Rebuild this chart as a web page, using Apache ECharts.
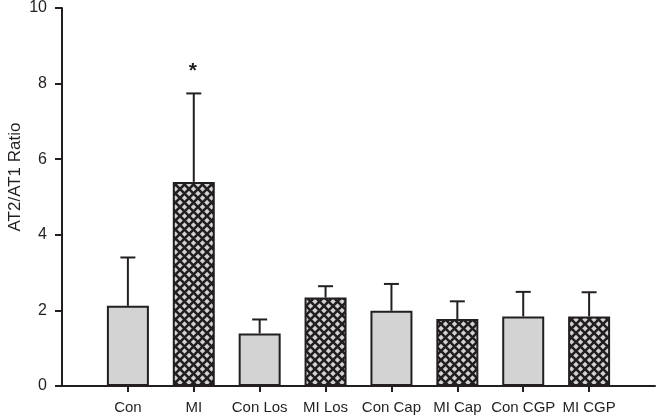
<!DOCTYPE html>
<html>
<head>
<meta charset="utf-8">
<script src="https://cdn.jsdelivr.net/npm/echarts@6/dist/echarts.min.js"></script>
<style>html,body{margin:0;padding:0;background:#fff}#c{width:658px;height:417px}</style>
</head>
<body>
<div id="c"></div>
<script>
var categories = ['', 'Con', 'MI', 'Con Los', 'MI Los', 'Con Cap', 'MI Cap', 'Con CGP', 'MI CGP', ''];
var means = [null, 2.12, 5.40, 1.39, 2.34, 1.99, 1.77, 1.84, 1.84, null];
var errTops = [null, 3.40, 7.74, 1.76, 2.64, 2.70, 2.24, 2.49, 2.48, null];
var hatched = [false, false, true, false, true, false, true, false, true, false];
var significance = ['', '', '*', '', '', '', '', '', '', ''];
var yTicks = [0, 2, 4, 6, 8, 10];

var FILL = '#d3d3d3', DARK = '#231f20';
function makePattern() {
  var s = 9;
  var c = document.createElement('canvas');
  c.width = s; c.height = s;
  var g = c.getContext('2d');
  g.fillStyle = FILL; g.fillRect(0, 0, s, s);
  g.strokeStyle = DARK; g.lineWidth = 2.6;
  g.beginPath();
  g.moveTo(-1, -1); g.lineTo(s + 1, s + 1);
  g.moveTo(s + 1, -1); g.lineTo(-1, s + 1);
  g.stroke();
  return c;
}
var pat = makePattern();

var barData = means.map(function (v, i) {
  if (v == null) return null;
  return {
    value: v,
    itemStyle: { color: hatched[i] ? { image: pat, repeat: 'repeat' } : FILL }
  };
});
var errData = means.map(function (v, i) {
  return v == null ? null : [i, v, errTops[i], significance[i]];
}).filter(function (d) { return d; });

var chart = echarts.init(document.getElementById('c'), null, { renderer: 'canvas' });
chart.setOption({
  animation: false,
  grid: { left: 62, right: 0, top: 7, bottom: 31, containLabel: false },
  xAxis: {
    type: 'category',
    data: categories,
    boundaryGap: false,
    axisLine: { lineStyle: { color: DARK, width: 2 } },
    axisTick: {
      length: 6,
      lineStyle: { color: DARK, width: 2 },
      interval: function (i, v) { return v !== ''; }
    },
    axisLabel: { color: '#231f20', fontSize: 15, fontFamily: 'Liberation Sans, Arial', margin: 14, interval: 0 },
    splitLine: { show: false }
  },
  yAxis: {
    type: 'value',
    min: 0, max: 10, interval: 2,
    axisLine: { show: true, lineStyle: { color: DARK, width: 2 } },
    axisTick: { show: true, length: 7, lineStyle: { color: DARK, width: 2 } },
    axisLabel: { color: '#231f20', fontSize: 16, fontFamily: 'Liberation Sans, Arial', margin: 15,
      formatter: function (v) { return yTicks.indexOf(v) >= 0 ? String(v) : ''; } },
    splitLine: { show: false }
  },
  graphic: [{
    type: 'text',
    x: 15, y: 177,
    rotation: Math.PI / 2,
    style: {
      text: 'AT2/AT1 Ratio',
      fill: '#231f20',
      font: '17px "Liberation Sans", Arial',
      textAlign: 'center',
      textVerticalAlign: 'middle'
    }
  }],
  series: [{
    type: 'bar',
    data: barData,
    barWidth: 42,
    itemStyle: { borderColor: DARK, borderWidth: 2 },
    z: 2
  }, {
    type: 'custom',
    data: errData,
    z: 3,
    renderItem: function (params, api) {
      var base = api.coord([api.value(0), api.value(1)]);
      var top = api.coord([api.value(0), api.value(2)]);
      var sig = errData[params.dataIndex][3];
      var half = 7.5;
      var children = [{
        type: 'line',
        shape: { x1: base[0], y1: base[1], x2: top[0], y2: top[1] },
        style: { stroke: DARK, lineWidth: 2 }
      }, {
        type: 'line',
        shape: { x1: top[0] - half, y1: top[1], x2: top[0] + half, y2: top[1] },
        style: { stroke: DARK, lineWidth: 2 }
      }];
      if (sig) {
        children.push({
          type: 'text',
          x: top[0] - 1, y: top[1] - 22,
          style: {
            text: sig, fill: DARK,
            font: 'bold 21px "Liberation Sans", Arial',
            textAlign: 'center', textVerticalAlign: 'middle'
          }
        });
      }
      return { type: 'group', children: children };
    }
  }]
});
</script>
</body>
</html>
